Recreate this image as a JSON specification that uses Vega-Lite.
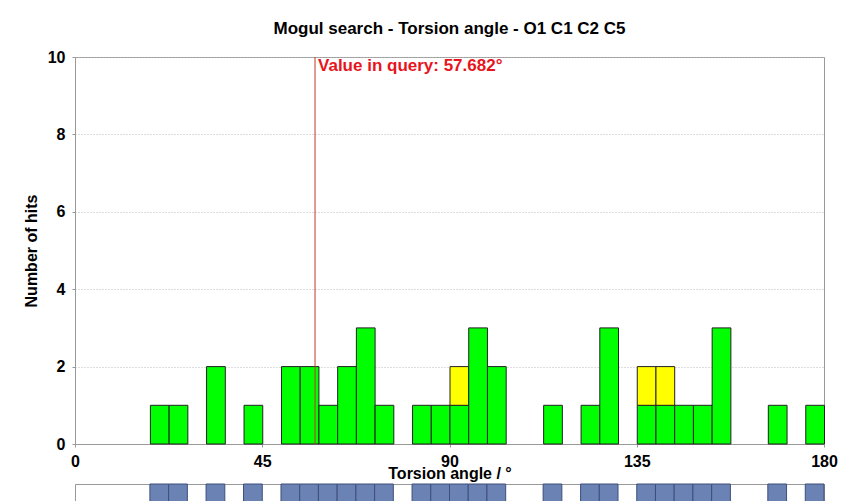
{
  "$schema": "https://vega.github.io/schema/vega-lite/v6.json",
  "padding": {"left": 22, "top": 19, "right": 0, "bottom": 0},
  "background": "white",
  "datasets": {
    "bins": [
      {"start": 18, "end": 22.5, "hits": 1, "kind": "green"},
      {"start": 22.5, "end": 27, "hits": 1, "kind": "green"},
      {"start": 31.5, "end": 36, "hits": 2, "kind": "green"},
      {"start": 40.5, "end": 45, "hits": 1, "kind": "green"},
      {"start": 49.5, "end": 54, "hits": 2, "kind": "green"},
      {"start": 54, "end": 58.5, "hits": 2, "kind": "green"},
      {"start": 58.5, "end": 63, "hits": 1, "kind": "green"},
      {"start": 63, "end": 67.5, "hits": 2, "kind": "green"},
      {"start": 67.5, "end": 72, "hits": 3, "kind": "green"},
      {"start": 72, "end": 76.5, "hits": 1, "kind": "green"},
      {"start": 81, "end": 85.5, "hits": 1, "kind": "green"},
      {"start": 85.5, "end": 90, "hits": 1, "kind": "green"},
      {"start": 90, "end": 94.5, "hits": 1, "kind": "green"},
      {"start": 90, "end": 94.5, "hits": 1, "kind": "yellow"},
      {"start": 94.5, "end": 99, "hits": 3, "kind": "green"},
      {"start": 99, "end": 103.5, "hits": 2, "kind": "green"},
      {"start": 112.5, "end": 117, "hits": 1, "kind": "green"},
      {"start": 121.5, "end": 126, "hits": 1, "kind": "green"},
      {"start": 126, "end": 130.5, "hits": 3, "kind": "green"},
      {"start": 135, "end": 139.5, "hits": 1, "kind": "green"},
      {"start": 135, "end": 139.5, "hits": 1, "kind": "yellow"},
      {"start": 139.5, "end": 144, "hits": 1, "kind": "green"},
      {"start": 139.5, "end": 144, "hits": 1, "kind": "yellow"},
      {"start": 144, "end": 148.5, "hits": 1, "kind": "green"},
      {"start": 148.5, "end": 153, "hits": 1, "kind": "green"},
      {"start": 153, "end": 157.5, "hits": 3, "kind": "green"},
      {"start": 166.5, "end": 171, "hits": 1, "kind": "green"},
      {"start": 175.5, "end": 180, "hits": 1, "kind": "green"}
    ],
    "query": [{"angle": 57.682, "label": "Value in query: 57.682°"}]
  },
  "spacing": 1,
  "vconcat": [
    {
      "width": 749,
      "height": 387,
      "title": {"text": "Mogul search - Torsion angle - O1 C1 C2 C5", "frame": "group", "anchor": "middle", "font": "Liberation Sans", "fontSize": 17, "fontWeight": "bold", "color": "black", "offset": 11},
      "layer": [
        {
          "data": {"name": "bins"},
          "mark": {"type": "bar", "stroke": "#222222", "strokeWidth": 1, "opacity": 1, "binSpacing": 0},
          "encoding": {
            "x": {"field": "start", "type": "quantitative", "bin": "binned",
                  "scale": {"domain": [0, 180], "nice": false, "zero": false},
                  "axis": {"values": [0, 45, 90, 135, 180], "title": "Torsion angle / °"}},
            "x2": {"field": "end"},
            "y": {"field": "hits", "type": "quantitative", "stack": "zero",
                  "scale": {"domain": [0, 10], "nice": false},
                  "axis": {"values": [0, 2, 4, 6, 8, 10], "title": "Number of hits"}},
            "color": {"field": "kind", "type": "nominal", "legend": null,
                      "scale": {"domain": ["green", "yellow"], "range": ["#00FF00", "#FFFF00"]}},
            "order": {"field": "kind", "sort": "ascending"}
          }
        },
        {
          "data": {"name": "query"},
          "mark": {"type": "rule", "color": "#C0392B", "strokeWidth": 1},
          "encoding": {"x": {"field": "angle", "type": "quantitative"}}
        },
        {
          "data": {"name": "query"},
          "mark": {"type": "text", "color": "#E8141C", "font": "Liberation Sans", "fontSize": 17, "fontWeight": "bold", "align": "left", "baseline": "top", "dx": 3, "dy": 1},
          "encoding": {
            "x": {"field": "angle", "type": "quantitative"},
            "y": {"datum": 10},
            "text": {"field": "label"}
          }
        }
      ]
    },
    {
      "width": 749,
      "height": 20,
      "data": {"name": "bins"},
      "transform": [{"filter": "datum.kind == 'green'"}],
      "mark": {"type": "rect", "fill": "#6B82B4", "stroke": "#3E4F7C", "strokeWidth": 1},
      "encoding": {
        "x": {"field": "start", "type": "quantitative", "scale": {"domain": [0, 180], "nice": false, "zero": false}, "axis": null},
        "x2": {"field": "end"}
      }
    }
  ],
  "config": {
    "view": {"stroke": "#999999", "strokeWidth": 1},
    "axis": {
      "labelFont": "Liberation Sans", "labelFontSize": 16, "labelFontWeight": "bold", "labelColor": "black",
      "titleFont": "Liberation Sans", "titleFontSize": 16, "titleFontWeight": "bold", "titleColor": "black",
      "domainColor": "#999999", "tickColor": "#999999", "tickSize": 3,
      "gridColor": "#BBBBBB", "gridDash": [1, 2], "gridWidth": 1
    },
    "axisX": {"labelFlush": false, "labelPadding": 6, "titlePadding": -4},
    "axisY": {"labelPadding": 7, "titlePadding": 8}
  }
}
